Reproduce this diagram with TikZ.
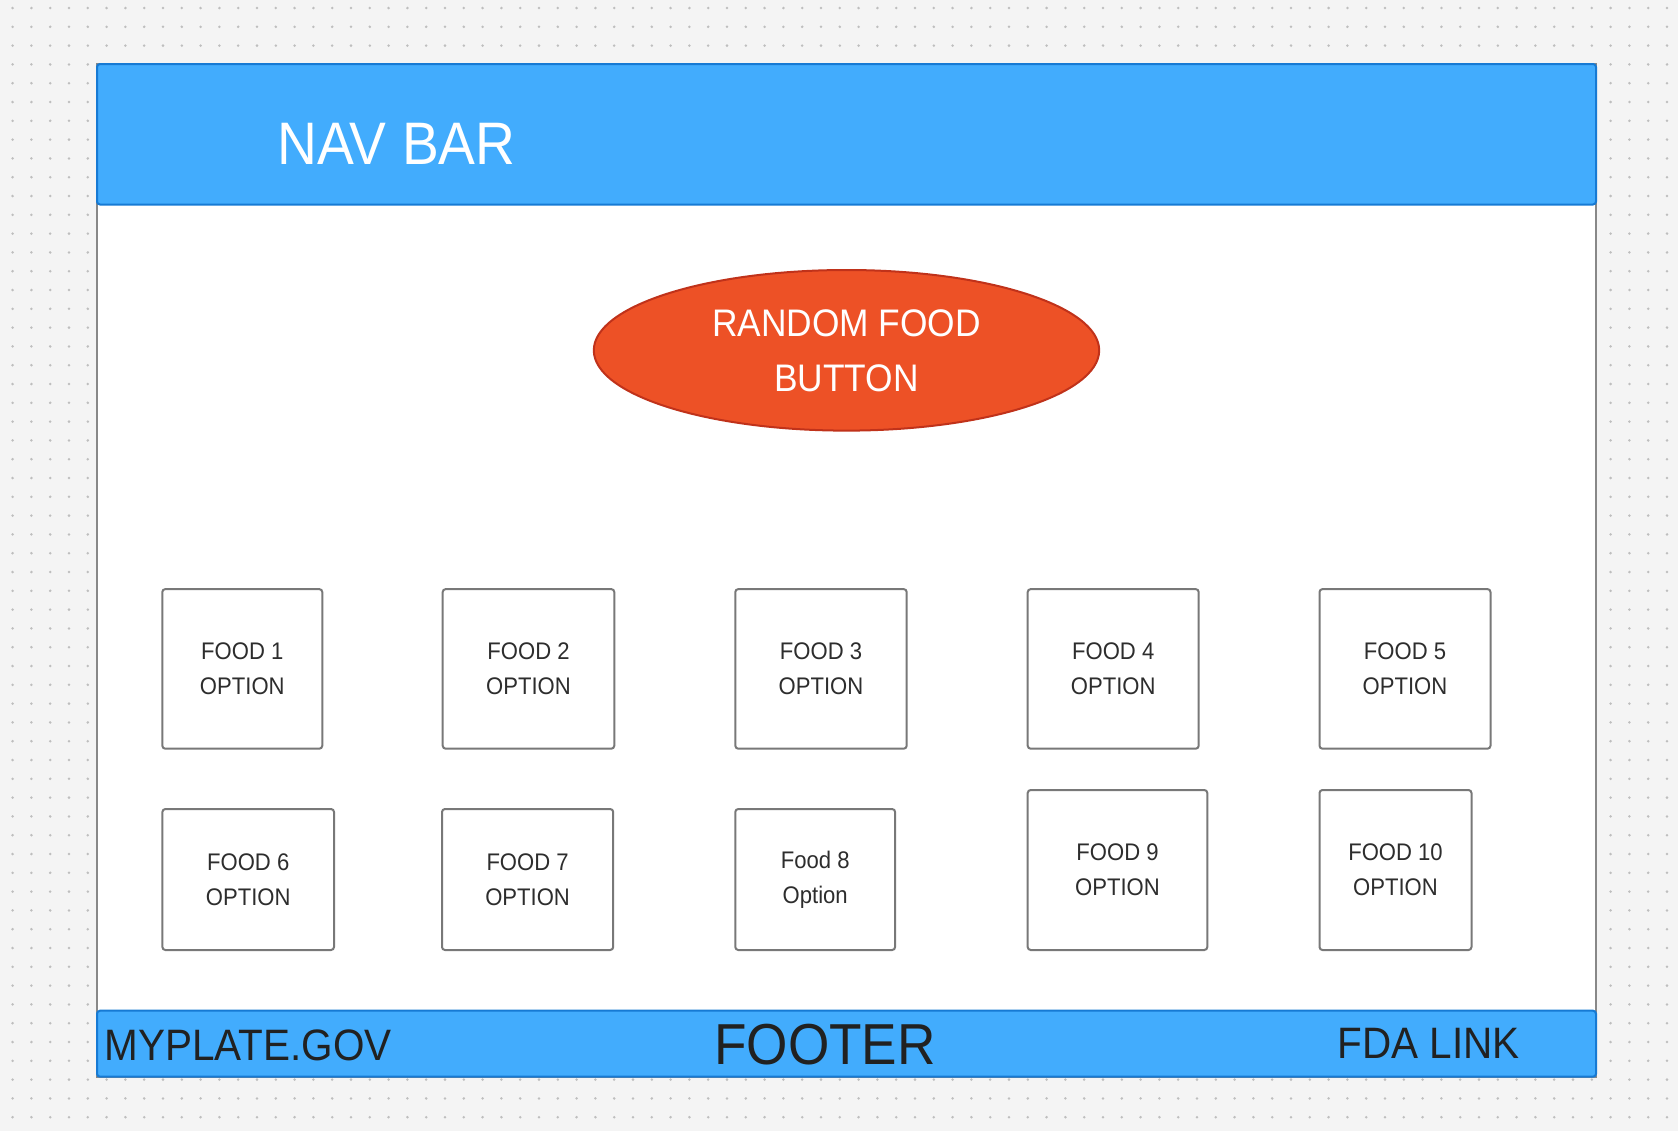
\documentclass[tikz,border=0pt]{standalone}
\usepackage{fontspec}
\setmainfont[FakeStretch=0.92]{Liberation Sans}
\usetikzlibrary{shapes.geometric}

\definecolor{canvas}{RGB}{244,244,244}
\definecolor{dotgray}{RGB}{190,190,190}
\definecolor{navblue}{RGB}{66,172,253}
\definecolor{navedge}{RGB}{22,122,212}
\definecolor{btnred}{RGB}{237,81,38}
\definecolor{btnedge}{RGB}{192,50,26}
\definecolor{frameedge}{RGB}{136,136,136}
\definecolor{boxedge}{RGB}{120,120,120}
\definecolor{ink}{RGB}{45,45,45}

\tikzset{
  bar/.style={fill=navblue, draw=navedge, line width=1pt, rounded corners=1.5pt},
  foodbox/.style={draw=boxedge, fill=white, line width=1pt, rounded corners=1.5pt,
    inner sep=0pt, align=center, text=ink, font=\fontsize{12}{17.5}\selectfont},
  button/.style={ellipse, draw=btnedge, fill=btnred, line width=1pt, inner sep=0pt,
    align=center, text=white, font=\fontsize{19.2}{27.5}\selectfont},
  footlabel/.style={anchor=base west, inner sep=0pt, text=black!87, font=\fontsize{22}{26}\selectfont},
}

\begin{document}
\begin{tikzpicture}[x=0.5pt, y=-0.5pt]
  \useasboundingbox (0,0) rectangle (1678,1131);
  \fill [canvas] (0,0) rectangle (1678,1131);

  % dotted canvas
  \foreach \k in {0,...,59}
    \draw [dotgray, line width=1.4pt, line cap=round, dash pattern=on 0pt off 9.4pt]
      (12.6,8+18.8*\k) -- (1678,8+18.8*\k);

  % page
  \draw [frameedge, line width=1pt, fill=white] (97,64) rectangle (1596,1077);
  \path [bar] (97,64) rectangle (1596,204.5);
  \path [bar] (97,1010.7) rectangle (1596,1076.7);

  \node [anchor=base west, inner sep=0pt, text=white, font=\fontsize{30}{36}\selectfont] (nav) at (277,164.3) {NAV BAR};

  \node [button, minimum width=252.7pt, minimum height=80.3pt] (rand) at (846.5,350.3) {RANDOM FOOD\\BUTTON};

  % first row
  \node [foodbox, minimum width=80pt, minimum height=79.8pt] (f1) at (242.3,668.9) {FOOD 1\\OPTION};
  \node [foodbox, minimum width=85.8pt, minimum height=79.8pt] (f2) at (528.5,668.9) {FOOD 2\\OPTION};
  \node [foodbox, minimum width=85.7pt, minimum height=79.8pt] (f3) at (821,668.9) {FOOD 3\\OPTION};
  \node [foodbox, minimum width=85.5pt, minimum height=79.8pt] (f4) at (1113.2,668.9) {FOOD 4\\OPTION};
  \node [foodbox, minimum width=85.5pt, minimum height=79.8pt] (f5) at (1405,668.9) {FOOD 5\\OPTION};

  % second row
  \node [foodbox, minimum width=85.8pt, minimum height=70.5pt] (f6) at (248.2,879.5) {FOOD 6\\OPTION};
  \node [foodbox, minimum width=85.6pt, minimum height=70.5pt] (f7) at (527.6,879.5) {FOOD 7\\OPTION};
  \node [foodbox, minimum width=79.9pt, minimum height=70.5pt] (f8) at (815.2,879.5) {Food 8\\Option};
  \node [foodbox, minimum width=89.8pt, minimum height=80pt] (f9) at (1117.5,870) {FOOD 9\\OPTION};
  \node [foodbox, minimum width=76pt, minimum height=80pt] (f10) at (1395.5,870) {FOOD 10\\OPTION};

  % footer
  \node [footlabel] (myplate) at (104,1060) {MYPLATE.GOV};
  \node [footlabel, anchor=base, font=\fontsize{28.9}{34}\selectfont] (foot) at (825,1064) {FOOTER};
  \node [footlabel] (fda) at (1337.3,1058.3) {FDA LINK};
\end{tikzpicture}
\end{document}
